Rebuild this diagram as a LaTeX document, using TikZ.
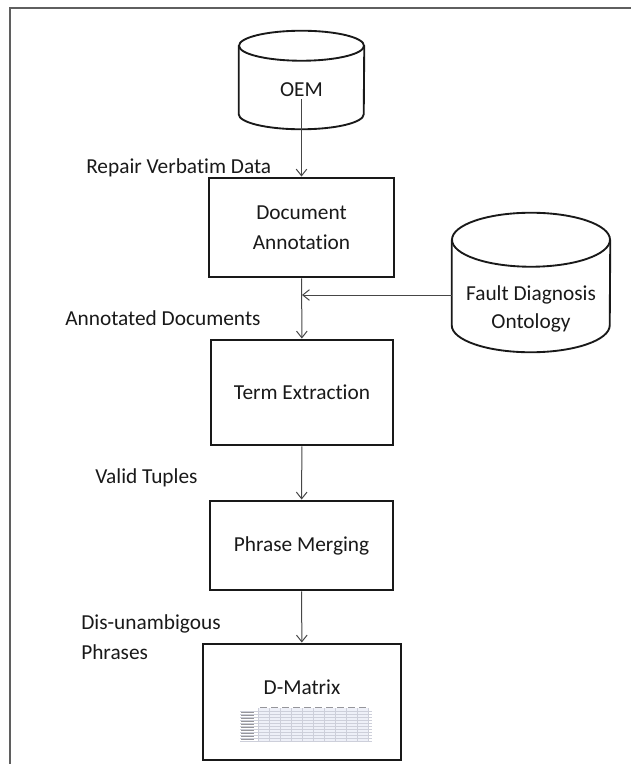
\documentclass[tikz,border=0pt]{standalone}
\usepackage{fontspec}
\setmainfont{Carlito}[Ligatures=NoCommon]
\usetikzlibrary{arrows.meta}

\definecolor{framegray}{RGB}{95,95,95}
\definecolor{inkgray}{RGB}{25,25,25}
\definecolor{linegray}{RGB}{70,70,70}
\definecolor{gridgray}{RGB}{205,207,218}
\definecolor{markgray}{RGB}{150,150,155}
\definecolor{cellblue}{RGB}{238,240,248}

\tikzset{
  stagebox/.style={draw=inkgray, line width=2.2pt, fill=white, align=center, inner sep=0pt},
  canbody/.style={inner sep=0pt},
  can/.style={draw=inkgray, line width=1.4pt},
  flow/.style={draw=linegray, line width=0.75pt, -{Straight Barb[length=5pt,width=8pt]}},
  tag/.style={anchor=west, inner sep=0pt},
}

\begin{document}
\begin{tikzpicture}[x=0.75pt,y=0.75pt,yscale=-1,xscale=1, font=\fontsize{16}{22.5}\selectfont, text=inkgray]
\useasboundingbox (0,0) rectangle (631,764);
\clip (0,0) rectangle (631,764);

% outer frame, runs off the right and bottom edges
\draw[framegray, line width=1.5pt] (10,780) -- (10,8) -- (650,8);

% OEM store
\node[canbody, minimum width=93.75pt, minimum height=51pt] (oem) at (301.5,80) {};
\draw[can] (oem.north west) -- (oem.south west) arc[start angle=180, end angle=0, x radius=46.875pt, y radius=11.25pt] -- (oem.north east);
\draw[can] (oem.north) ellipse[x radius=46.875pt, y radius=11.25pt];
\node (oemname) at (301.5,90) {OEM};

% ontology store
\node[canbody, minimum width=118.5pt, minimum height=63.75pt] (fdo) at (531,282.5) {};
\draw[can] (fdo.north west) -- (fdo.south west) arc[start angle=180, end angle=0, x radius=59.25pt, y radius=20.25pt] -- (fdo.north east);
\draw[can] (fdo.north) ellipse[x radius=59.25pt, y radius=20.25pt];
\node[align=center, font=\fontsize{16}{21}\selectfont] (fdoname) at (531,309) {Fault Diagnosis\\Ontology};

% processing stages
\node[stagebox, minimum width=138.75pt, minimum height=74.25pt] (anno) at (301.5,227.5) {Document\\Annotation};
\node[stagebox, minimum width=136.5pt, minimum height=78.75pt] (term) at (302,392.5) {Term Extraction};
\node[stagebox, minimum width=137.25pt, minimum height=66.75pt] (merge) at (301.5,545.5) {Phrase Merging};
\node[stagebox, minimum width=148.5pt, minimum height=87pt] (dmat) at (302,702) {};
\node (dmatname) at (302,687) {D-Matrix};

% small matrix sketch inside the D-Matrix box
\fill[cellblue] (258,708) rectangle (369,741);
\foreach \gx in {258,269,...,369}
  \draw[gridgray, line width=0.3pt] (\gx,708) -- (\gx,741);
\foreach \gy in {711,714,...,741}
  \draw[gridgray, line width=0.3pt] (240,\gy) -- (372,\gy);
\foreach \gy in {712.5,715.5,...,740}
  \draw[markgray, line width=0.9pt] (241,\gy) -- (254,\gy);
\foreach \gx in {260,271,...,360}
  \draw[markgray, line width=0.7pt] (\gx,707) -- (\gx+7,707);

% edge labels
\node[tag] (repair) at (86,168) {Repair Verbatim Data};
\node[tag] (annotated) at (65,318) {Annotated Documents};
\node[tag] (valid) at (95,478) {Valid Tuples};
\node[tag, align=left] (disamb) at (81,637) {Dis-unambigous\\Phrases};

% connectors
\coordinate (join) at (302,295);
\draw[flow] ([yshift=-11.25pt]oem.south) -- (anno);
\draw[flow] (anno) -- (term);
\draw[flow] (fdo.west |- join) -- (join);
\draw[flow] (term) -- (merge);
\draw[flow] (merge) -- (dmat);

\end{tikzpicture}
\end{document}
